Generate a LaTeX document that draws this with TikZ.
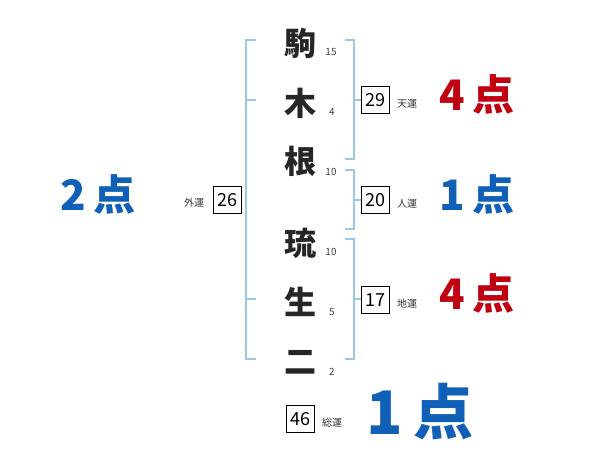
\documentclass[tikz,border=0pt]{standalone}
\usepackage{fontspec}
\setmainfont{Noto Sans CJK JP}
\definecolor{brk}{HTML}{9CC8E8}
\definecolor{sred}{HTML}{C00010}
\definecolor{sblue}{HTML}{1060B8}
\begin{document}
\begin{tikzpicture}[x=1pt,y=-1pt,
  namech/.style={font=\fontsize{32}{32}\selectfont\bfseries, text=black!85, inner sep=0pt},
  strk/.style={font=\fontsize{10}{10}\selectfont, text=black!75, inner sep=0pt},
  box/.style={draw=black, line width=0.7pt, minimum width=28pt, minimum height=27pt, inner sep=0pt, font=\fontsize{18}{18}\selectfont},
  unl/.style={font=\fontsize{10}{10}\selectfont, text=black!80, inner sep=0pt},
  brkline/.style={draw=brk, line width=1.6pt},
  score/.style={font=\fontsize{42}{42}\selectfont\bfseries, inner sep=0pt},
  bigscore/.style={font=\fontsize{60}{60}\selectfont\bfseries, inner sep=0pt, text=sblue}]
\useasboundingbox (0,0) rectangle (600,470);
% name characters
\node[namech] (c1) at (300,43) {駒};
\node[namech] (c2) at (300,103) {木};
\node[namech] (c3) at (300,161) {根};
\node[namech] (c4) at (300,243) {琉};
\node[namech] (c5) at (300,302) {生};
\node[namech] (c6) at (300,362) {二};
% stroke counts
\node[strk] (s1) at (331,52) {15};
\node[strk] (s2) at (332,112) {4};
\node[strk] (s3) at (331,172) {10};
\node[strk] (s4) at (331,252) {10};
\node[strk] (s5) at (332,312) {5};
\node[strk] (s6) at (332,372) {2};
% left bracket
\coordinate (l1) at (246,40); \coordinate (l2) at (246,359);
\draw[brkline] (256,40) -- (l1) -- (l2) -- (256,359);
\draw[brkline] (246,100) -- (256,100);
\draw[brkline] (246,299) -- (256,299);
% right brackets
\draw[brkline] (345,40) -- (354,40) -- (354,159) -- (345,159);
\draw[brkline] (354,100) -- (362,100);
\draw[brkline] (345,170) -- (354,170) -- (354,229) -- (345,229);
\draw[brkline] (354,200) -- (362,200);
\draw[brkline] (345,239) -- (354,239) -- (354,359) -- (345,359);
\draw[brkline] (354,299) -- (362,299);
% boxes
\node[box] (b1) at (375,100) {29};
\node[unl] (u1) at (407,104) {天運};
\node[box] (b2) at (375,200) {20};
\node[unl] (u2) at (407,204) {人運};
\node[box] (b3) at (375,300) {17};
\node[unl] (u3) at (407,304) {地運};
\node[box] (b4) at (227,200) {26};
\node[unl] (u4) at (194,203) {外運};
\node[box] (b5) at (300,419) {46};
\node[unl] (u5) at (332,423) {総運};
% scores
\node[score, text=sred] (p1) at (477,94) {4\,点};
\node[score, text=sblue] (p2) at (477,194) {1\,点};
\node[score, text=sred] (p3) at (477,293) {4\,点};
\node[score, text=sblue] (p4) at (98,194) {2\,点};
\node[bigscore] (p5) at (420,412) {1\,点};
\end{tikzpicture}
\end{document}
